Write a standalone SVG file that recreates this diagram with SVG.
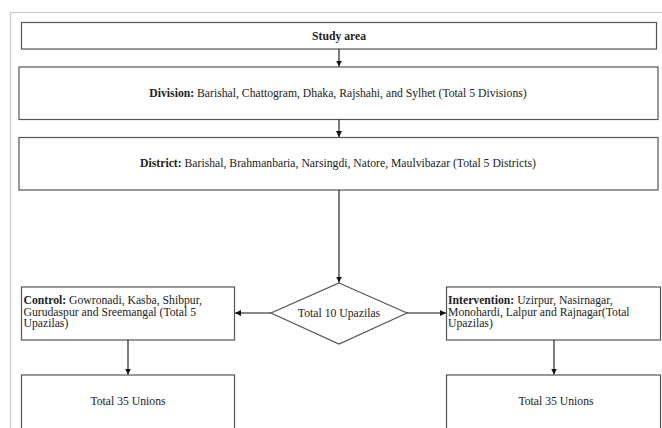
<svg xmlns="http://www.w3.org/2000/svg" width="662" height="428" viewBox="0 0 662 428">
<defs>
<style>
.box{fill:#fff;stroke:#555;stroke-width:1.2}
.frame{fill:none;stroke:#c8c8c8;stroke-width:1.2}
.t{font-family:"Liberation Serif","Times New Roman",serif;font-size:11.7px;fill:#222}
.b{font-weight:bold}
.c{stroke:#111;stroke-width:1.1;fill:none;marker-end:url(#ah)}
</style>
<marker id="ah" viewBox="0 0 10 10" refX="10" refY="5" markerWidth="6" markerHeight="6" markerUnits="userSpaceOnUse" orient="auto">
<path d="M0,0 L10,5 L0,10 z" fill="#111"/>
</marker>
</defs>
<rect width="662" height="428" fill="#fff"/>
<path class="frame" d="M10.5,428 V12.5 H662"/>
<g id="study">
<rect class="box" x="21.5" y="22.5" width="635" height="26.5"/>
<text class="t b" x="339" y="39.5" text-anchor="middle">Study area</text>
</g>
<g id="division">
<rect class="box" x="19" y="67" width="639" height="52.5"/>
<text class="t" x="338" y="97" text-anchor="middle"><tspan class="b">Division:</tspan> Barishal, Chattogram, Dhaka, Rajshahi, and Sylhet (Total 5 Divisions)</text>
</g>
<g id="district">
<rect class="box" x="19" y="137.5" width="639" height="52.5"/>
<text class="t" x="338" y="167" text-anchor="middle"><tspan class="b">District:</tspan> Barishal, Brahmanbaria, Narsingdi, Natore, Maulvibazar (Total 5 Districts)</text>
</g>
<g id="upazilas">
<path class="box" d="M339,283 L407,313 L339,344 L271,313 Z"/>
<text class="t" x="339" y="317" text-anchor="middle">Total 10 Upazilas</text>
</g>
<g id="control">
<rect class="box" x="21.5" y="287" width="213" height="53"/>
<text class="t" x="23.5" y="304"><tspan class="b">Control:</tspan> Gowronadi, Kasba, Shibpur,</text>
<text class="t" x="23.5" y="315.7">Gurudaspur and Sreemangal (Total 5</text>
<text class="t" x="23.5" y="327.4">Upazilas)</text>
</g>
<g id="intervention">
<rect class="box" x="446.5" y="287" width="214" height="53"/>
<text class="t" x="448" y="304"><tspan class="b">Intervention:</tspan> Uzirpur, Nasirnagar,</text>
<text class="t" x="448" y="315.7">Monohardi, Lalpur and Rajnagar(Total</text>
<text class="t" x="448" y="327.4">Upazilas)</text>
</g>
<g id="unions-control">
<rect class="box" x="21.5" y="375" width="213" height="60"/>
<text class="t" x="128" y="405" text-anchor="middle">Total 35 Unions</text>
</g>
<g id="unions-intervention">
<rect class="box" x="446.5" y="375" width="214" height="60"/>
<text class="t" x="556" y="405" text-anchor="middle">Total 35 Unions</text>
</g>
<g id="connectors">
<path class="c" d="M339,49 V66.5"/>
<path class="c" d="M339,119.5 V137"/>
<path class="c" d="M339,190 V282.5"/>
<path class="c" d="M271,313 H235"/>
<path class="c" d="M407,313 H446"/>
<path class="c" d="M128,340 V374.5"/>
<path class="c" d="M554,340 V374.5"/>
</g>
</svg>
